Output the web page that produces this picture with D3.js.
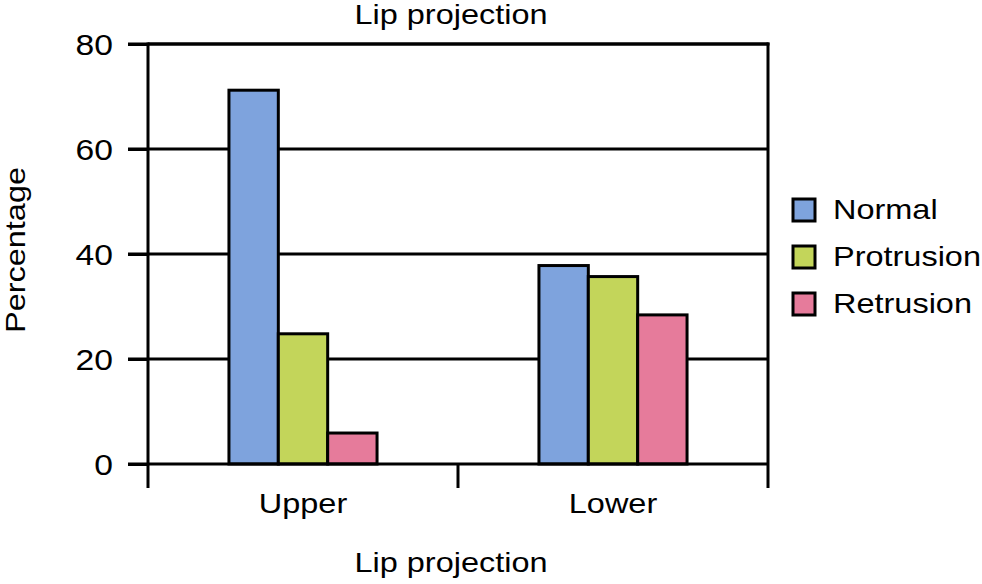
<!DOCTYPE html>
<html><head><meta charset="utf-8">
<script src="https://cdn.jsdelivr.net/npm/d3@7"></script>
<style>body{margin:0;background:#fff}svg{display:block}text{font-family:"Liberation Sans",Arial,sans-serif;fill:#000}</style>
</head><body>
<svg id="c" width="982" height="584"></svg>
<script>
const categories = ["Upper", "Lower"];
const seriesNames = ["Normal", "Protrusion", "Retrusion"];
const normal = [71.2, 37.8];
const protrusion = [24.8, 35.7];
const retrusion = [5.9, 28.4];
const yTicks = [0, 20, 40, 60, 80];
const colors = ["#7EA3DD", "#C3D55A", "#E67B9B"];
const seriesValues = [normal, protrusion, retrusion];

const svg = d3.select("#c");
const L = 148, R = 768, T = 44, B = 464, tickBottom = 488;
const SX = 1.16;

const y = d3.scaleLinear().domain([0, 80]).range([B, T]);
const x = d3.scaleBand().domain(categories).range([L, R]).paddingInner(0).paddingOuter(0);
const x1 = d3.scaleBand().domain(seriesNames).range([0, x.bandwidth()]).paddingInner(0).paddingOuter(1.64);

function txt(g, s, px, py, size, anchor, rot) {
  return g.append("text")
    .attr("transform", `translate(${px},${py})` + (rot ? ` rotate(${rot})` : "") + ` scale(${SX},1)`)
    .attr("text-anchor", anchor).style("font-size", size + "px").text(s);
}

// gridlines
svg.append("g").selectAll("line").data(yTicks.filter(d => d > 0)).join("line")
  .attr("x1", L - 20).attr("x2", R).attr("y1", d => y(d)).attr("y2", d => y(d))
  .attr("stroke", "#000").attr("stroke-width", 3);

// bars
const rows = categories.map((c, i) => ({ c, vals: seriesNames.map((s, j) => ({ s, v: seriesValues[j][i], col: colors[j] })) }));
svg.append("g").selectAll("g").data(rows).join("g")
  .attr("transform", d => `translate(${x(d.c)},0)`)
  .selectAll("rect").data(d => d.vals).join("rect")
  .attr("x", d => x1(d.s)).attr("width", x1.bandwidth())
  .attr("y", d => y(d.v)).attr("height", d => y(0) - y(d.v))
  .attr("fill", d => d.col).attr("stroke", "#000").attr("stroke-width", 3);

// y axis
const yAxis = d3.axisLeft(y).tickValues(yTicks).tickSize(20).tickPadding(15);
const gy = svg.append("g").attr("transform", `translate(${L},0)`).call(yAxis);
gy.select(".domain").remove();
gy.selectAll(".tick line").attr("stroke", "#000").attr("stroke-width", 3);
gy.selectAll(".tick text").text(null);
gy.selectAll(".tick").each(function(d) {
  txt(d3.select(this), d, -35, 10, 29, "end");
});

// zero line
svg.append("line").attr("x1", L - 20).attr("x2", R).attr("y1", y(0)).attr("y2", y(0))
  .attr("stroke", "#000").attr("stroke-width", 3);
// left & right verticals
[L, R].forEach(px => svg.append("line").attr("x1", px).attr("x2", px).attr("y1", T - 1.5).attr("y2", tickBottom)
  .attr("stroke", "#000").attr("stroke-width", 3));
// top line
svg.append("line").attr("x1", L).attr("x2", R + 1.5).attr("y1", T).attr("y2", T).attr("stroke", "#000").attr("stroke-width", 3);

// x axis category ticks
const xAxis = d3.axisBottom(x).tickSize(0).tickPadding(0);
const gx = svg.append("g").attr("transform", `translate(0,${B})`).call(xAxis);
gx.select(".domain").remove();
gx.selectAll(".tick text").text(null);
gx.selectAll(".tick").each(function(d) { txt(d3.select(this), d, 0, 49, 28, "middle"); });
svg.append("g").selectAll("line").data(categories.slice(1)).join("line")
  .attr("x1", d => x(d)).attr("x2", d => x(d)).attr("y1", B).attr("y2", tickBottom)
  .attr("stroke", "#000").attr("stroke-width", 3);

// titles
txt(svg, "Lip projection", 451, 24, 28, "middle");
txt(svg, "Lip projection", 451, 572, 28, "middle");
txt(svg, "Percentage", 25, 250, 28, "middle", -90);

// legend
const lg = svg.append("g").selectAll("g").data(seriesNames).join("g")
  .attr("transform", (d, i) => `translate(793,${199 + i * 47})`);
lg.append("rect").attr("width", 22).attr("height", 22).attr("fill", (d, i) => colors[i])
  .attr("stroke", "#000").attr("stroke-width", 3);
lg.each(function(d) { txt(d3.select(this), d, 40, 20, 28, "start"); });
</script>
</body></html>
